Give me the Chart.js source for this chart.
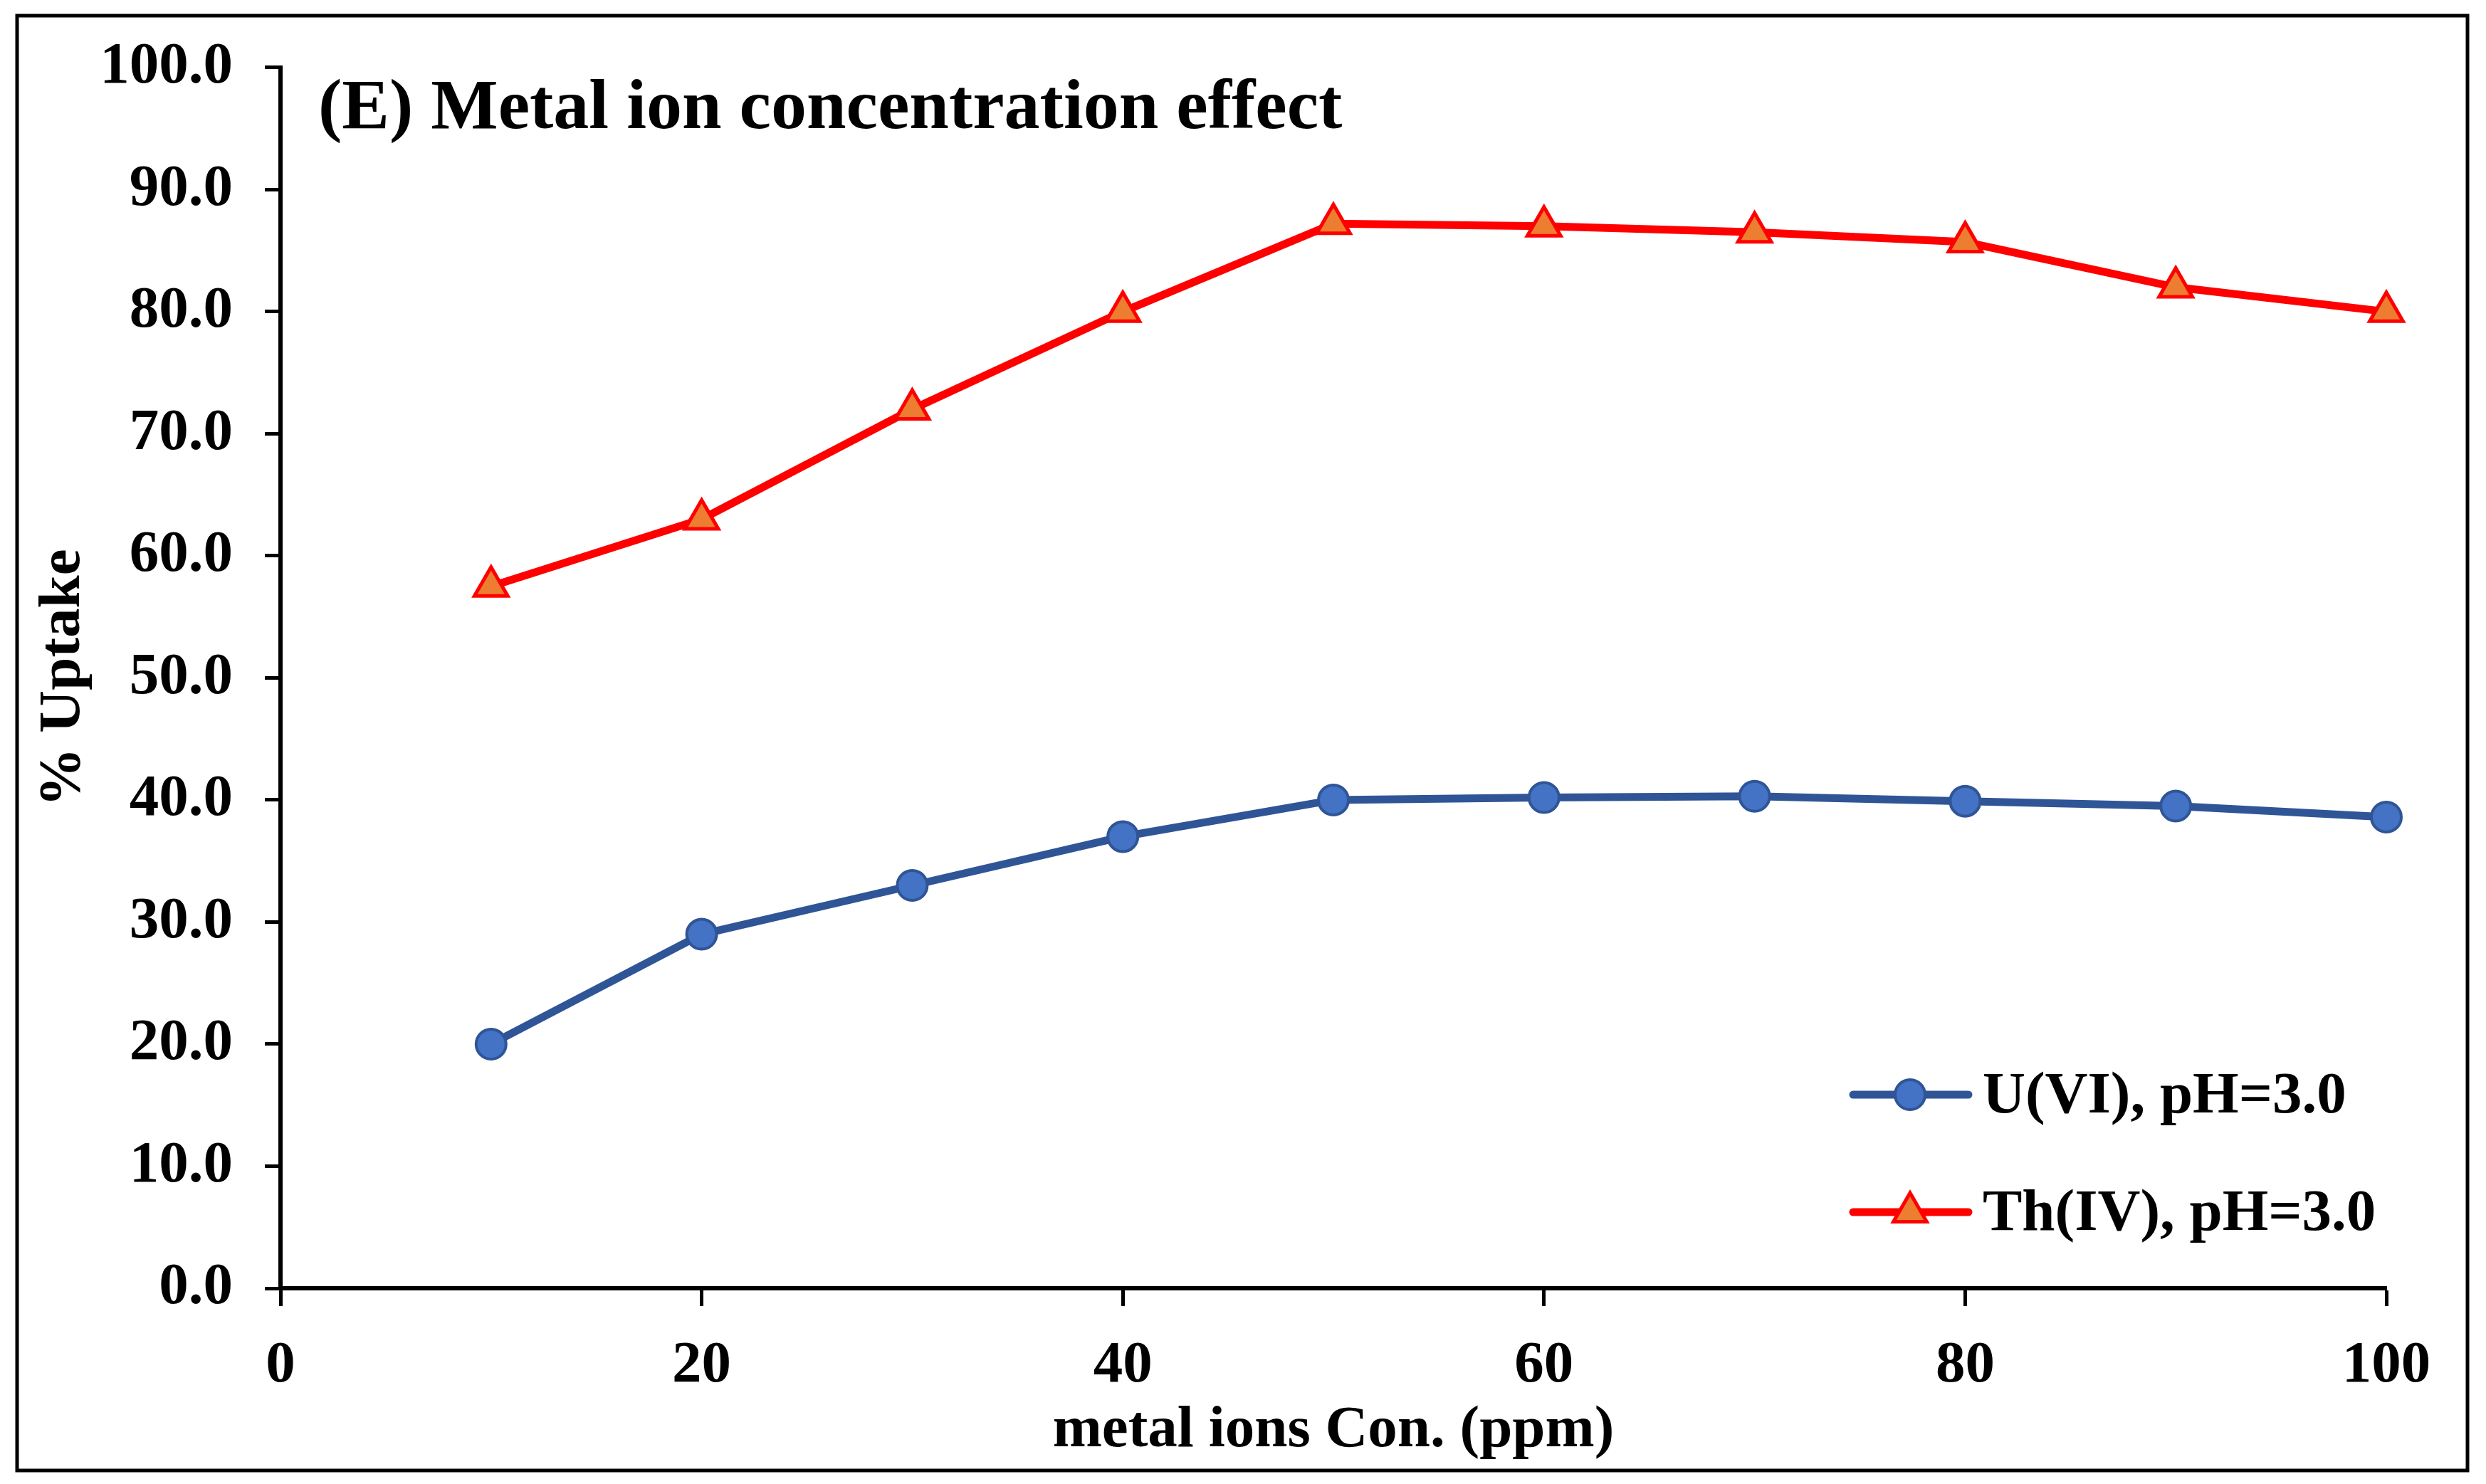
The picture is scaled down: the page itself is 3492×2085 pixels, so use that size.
<!DOCTYPE html>
<html>
<head>
<meta charset="utf-8">
<script src="https://cdn.jsdelivr.net/npm/chart.js@4.4.1/dist/chart.umd.min.js"></script>
<style>
  html, body { margin: 0; padding: 0; background: #fff; overflow: hidden; }
  canvas { display: block; }
</style>
</head>
<body>
<canvas id="myChart" width="3492" height="2085" style="width:3492px;height:2085px"></canvas>
<script>
const ctx = document.getElementById('myChart');

const concentrations = [10, 20, 30, 40, 50, 60, 70, 80, 90, 100];
const uranium = [20.0, 29.0, 33.0, 37.0, 40.0, 40.2, 40.3, 39.9, 39.5, 38.6];
const thorium = [57.5, 63.0, 72.0, 80.0, 87.2, 87.0, 86.5, 85.7, 82.0, 80.0];
const seriesNames = ['U(VI), pH=3.0', 'Th(IV), pH=3.0'];
const chartTitle = '(E) Metal ion concentration effect';
const xTitle = 'metal ions Con. (ppm)';
const yTitle = '% Uptake';

const FONT = "'Liberation Serif', 'Times New Roman', serif";

// frame, title and the in-plot legend
const decorations = {
    id: 'decorations',
    afterDraw(chart) {
        const c = chart.ctx;
        c.save();
        c.strokeStyle = '#000';
        c.lineWidth = 5;
        c.strokeRect(24, 22, 3442, 2044);

        c.fillStyle = '#000';
        c.font = 'bold 100px ' + FONT;
        c.textBaseline = 'alphabetic';
        c.textAlign = 'left';
        c.fillText(chartTitle, 447, 180);

        const rows = [1538, 1703];
        chart.data.datasets.forEach((ds, i) => {
            const y = rows[i];
            c.strokeStyle = ds.borderColor;
            c.lineWidth = ds.borderWidth;
            c.lineCap = 'round';
            c.beginPath();
            c.moveTo(2603, y);
            c.lineTo(2765, y);
            c.stroke();
            c.fillStyle = ds.pointBackgroundColor;
            c.strokeStyle = ds.pointBorderColor;
            c.lineWidth = ds.pointBorderWidth;
            Chart.helpers.drawPoint(c, {
                pointStyle: ds.pointStyle,
                radius: ds.pointRadius,
                rotation: 0,
                borderWidth: ds.pointBorderWidth
            }, 2683, y);
            c.fillStyle = '#000';
            c.font = 'bold 83px ' + FONT;
            c.textBaseline = 'middle';
            c.fillText(ds.label, 2785, y + 4);
        });
        c.restore();
    }
};

const data = {
    labels: concentrations,
    datasets: [
        {
            label: seriesNames[0],
            data: uranium,
            borderColor: '#2F5597',
            borderWidth: 11,
            pointStyle: 'circle',
            pointRadius: 21,
            pointBackgroundColor: '#4472C4',
            pointBorderColor: '#2F5597',
            pointBorderWidth: 4
        },
        {
            label: seriesNames[1],
            data: thorium,
            borderColor: '#FF0000',
            borderWidth: 11,
            pointStyle: 'triangle',
            pointRadius: 27,
            pointBackgroundColor: '#ED7D31',
            pointBorderColor: '#FF0000',
            pointBorderWidth: 5
        }
    ]
};

const config = {
    type: 'line',
    data: {
        datasets: data.datasets.map(ds => ({
            ...ds,
            data: ds.data.map((v, i) => ({ x: concentrations[i], y: v })),
            fill: false,
            tension: 0,
            clip: false,
            pointHoverRadius: ds.pointRadius
        }))
    },
    options: {
        responsive: false,
        animation: false,
        devicePixelRatio: 1,
        layout: { padding: { top: 94, right: 140, left: 0, bottom: 0 } },
        plugins: {
            legend: { display: false },
            title: { display: false },
            tooltip: { enabled: false }
        },
        scales: {
            x: {
                type: 'linear',
                min: 0,
                max: 100,
                afterFit(scale) { scale.height = 275; },
                border: { display: true, color: '#000', width: 6 },
                grid: { drawOnChartArea: false, drawTicks: true, tickLength: 25, tickWidth: 5, tickColor: '#000' },
                ticks: {
                    stepSize: 20,
                    color: '#000',
                    padding: 35,
                    maxRotation: 0,
                    font: { family: FONT, size: 83, weight: 'bold' }
                },
                title: {
                    display: true,
                    text: xTitle,
                    color: '#000',
                    padding: { top: 0, bottom: 25 },
                    font: { family: FONT, size: 83, weight: 'bold' }
                }
            },
            y: {
                min: 0,
                max: 100,
                afterFit(scale) { scale.width = 394; },
                border: { display: true, color: '#000', width: 6 },
                grid: { drawOnChartArea: false, drawTicks: true, tickLength: 22, tickWidth: 5, tickColor: '#000' },
                ticks: {
                    stepSize: 10,
                    color: '#000',
                    padding: 45,
                    callback: v => v.toFixed(1),
                    font: { family: FONT, size: 83, weight: 'bold' }
                },
                title: {
                    display: true,
                    text: yTitle,
                    color: '#000',
                    padding: { top: 40, bottom: 0 },
                    font: { family: FONT, size: 83, weight: 'bold' }
                }
            }
        }
    },
    plugins: [decorations]
};

new Chart(ctx, config);
</script>
</body>
</html>
